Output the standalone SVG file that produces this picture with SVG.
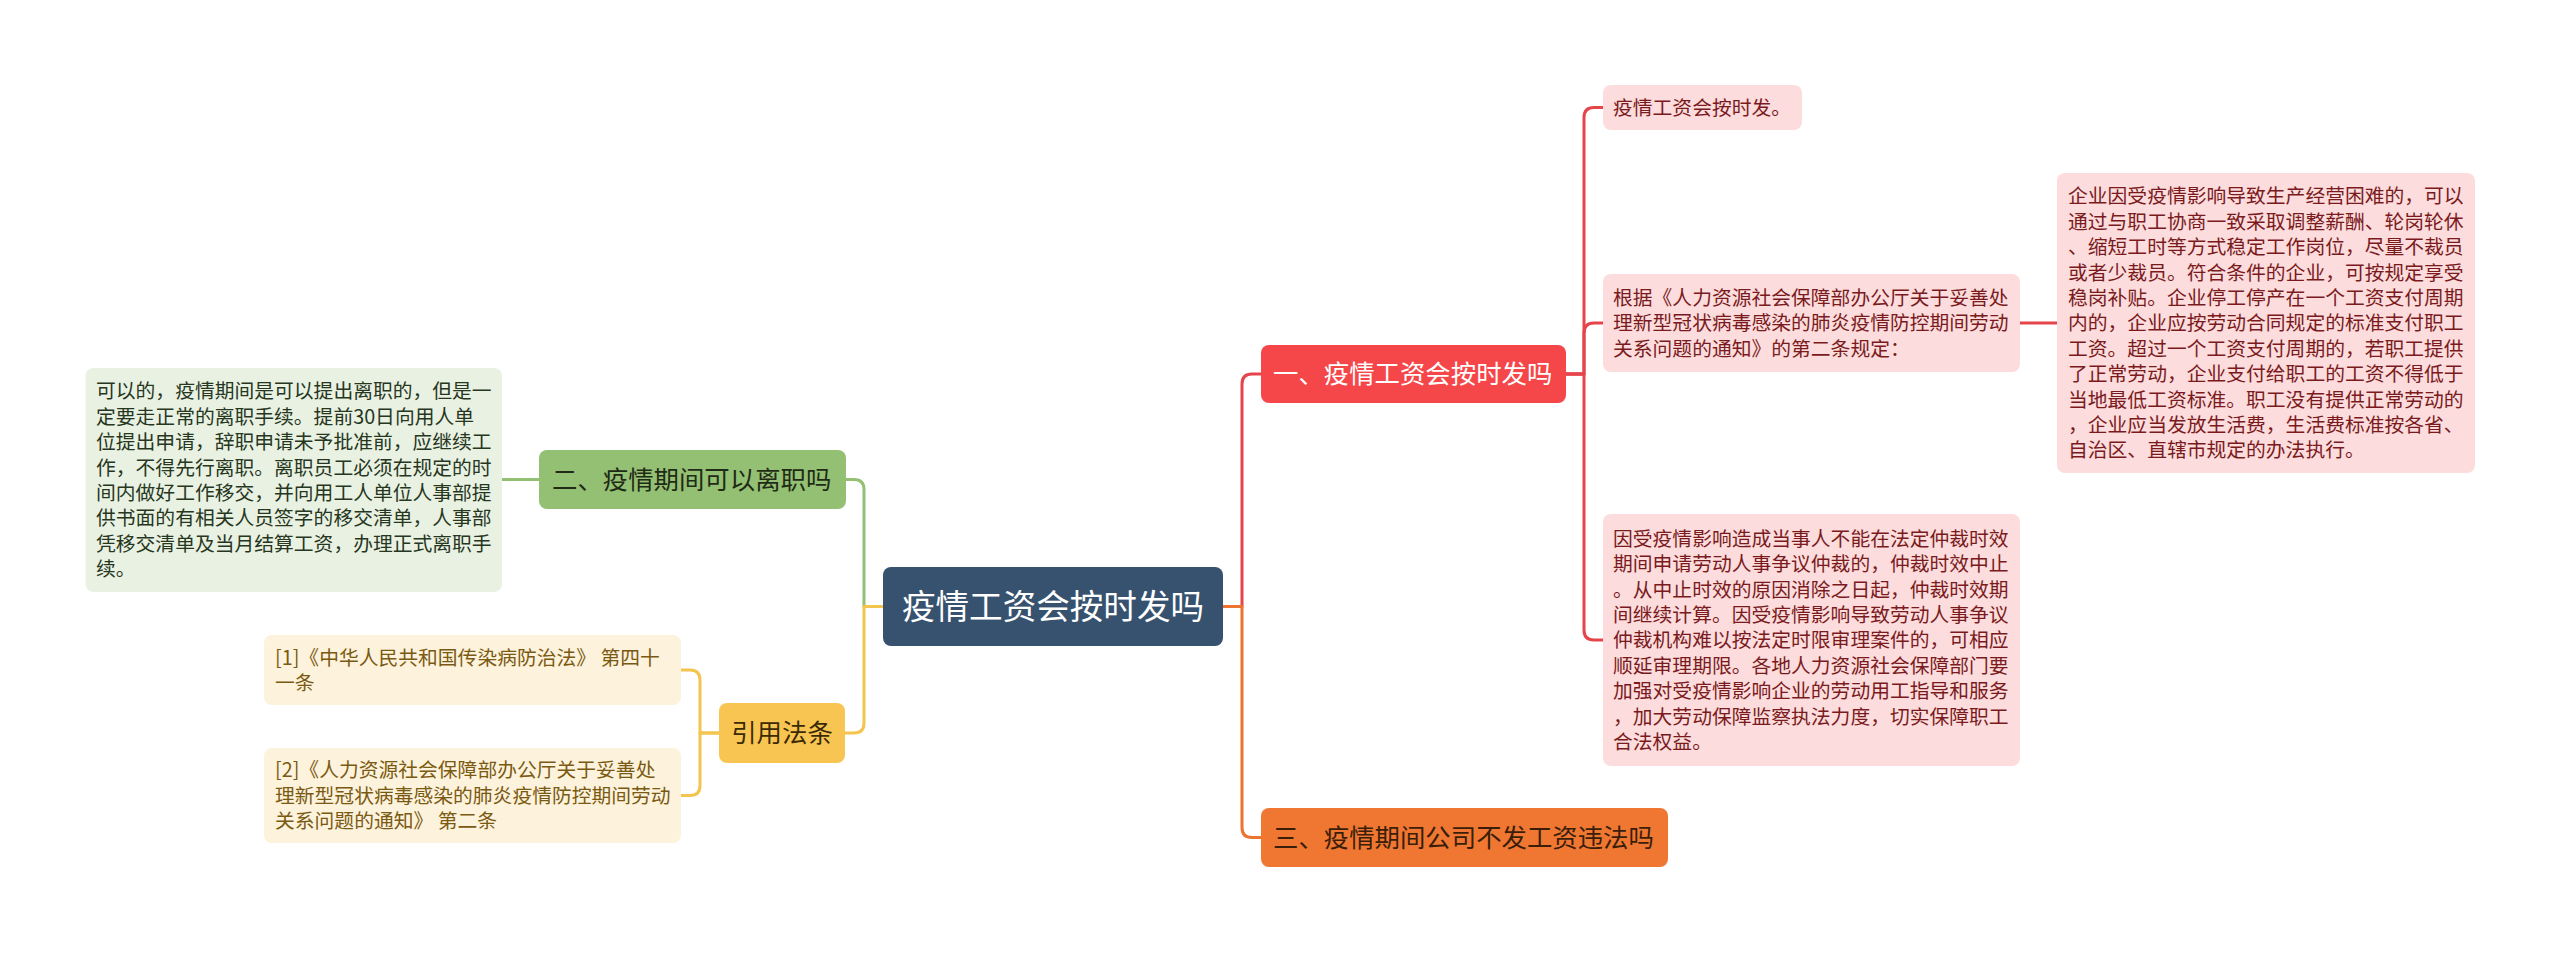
<svg xmlns="http://www.w3.org/2000/svg" width="2560" height="953" viewBox="0 0 2560 953">
<style>
text{font-family:"Noto Sans CJK SC","Noto Sans",sans-serif;}
.c{fill:none;stroke-width:3;stroke-linecap:round;stroke-linejoin:round;}
.cr{stroke:#e5444a;}
.co{stroke:#ec7330;}
.cg{stroke:#94c073;}
.cy{stroke:#f3c44e;}
.main{font-size:25.4px;}
.leaf{font-size:19.8px;}
.rl{fill:#fcdcdc;}
.rt{fill:#7a1a1c;}
.gl{fill:#e9f2e2;}
.gt{fill:#27361f;}
.yl{fill:#fdf2db;}
.yt{fill:#7a5a12;}
</style>
<rect width="2560" height="953" fill="#ffffff"/>
<g id="connectors">
<path class="c cg" d="M883,606.5 H864 V489.5 Q864,479.5 854,479.5 H846"/>
<path class="c cy" d="M883,606.5 H864 V723 Q864,733 854,733 H845"/>
<path class="c cg" d="M539,479.5 H502"/>
<path class="c cy" d="M719,733 H700 V680 Q700,670 690,670 H681"/>
<path class="c cy" d="M719,733 H700 V785.5 Q700,795.5 690,795.5 H681"/>
<path class="c cr" d="M1223,606.5 H1242 V384 Q1242,374 1252,374 H1261"/>
<path class="c co" d="M1223,606.5 H1242 V827.5 Q1242,837.5 1252,837.5 H1261"/>
<path class="c cr" d="M1566,374 H1584 V117.5 Q1584,107.5 1594,107.5 H1603"/>
<path class="c cr" d="M1566,374 H1584 V333 Q1584,323 1594,323 H1603"/>
<path class="c cr" d="M1566,374 H1584 V630 Q1584,640 1594,640 H1603"/>
<path class="c cr" d="M2020,323 H2057"/>
</g>
<g id="root">
<rect x="883" y="567" width="340" height="79" rx="8" fill="#37526f"/>
<text x="1053" y="619" font-size="33.6" fill="#ffffff" text-anchor="middle">疫情工资会按时发吗</text>
</g>
<g id="n1">
<rect x="1261" y="345" width="305" height="58" rx="8" fill="#f5464a"/>
<text class="main" x="1273" y="383.4" fill="#ffffff">一、疫情工资会按时发吗</text>
</g>
<g id="n1a">
<rect class="rl" x="1603" y="85" width="199" height="45" rx="8"/>
<text class="leaf rt" x="1613" y="114.8">疫情工资会按时发。</text>
</g>
<g id="n1b">
<rect class="rl" x="1603" y="274" width="417" height="98" rx="8"/>
<text class="leaf rt"><tspan x="1613" y="304.9">根据《人力资源社会保障部办公厅关于妥善处</tspan><tspan x="1613" y="330.3">理新型冠状病毒感染的肺炎疫情防控期间劳动</tspan><tspan x="1613" y="355.7">关系问题的通知》的第二条规定：</tspan></text>
</g>
<g id="n1b1">
<rect class="rl" x="2057" y="173" width="418" height="300" rx="8"/>
<text class="leaf rt"><tspan x="2068" y="203.3">企业因受疫情影响导致生产经营困难的，可以</tspan><tspan x="2068" y="228.7">通过与职工协商一致采取调整薪酬、轮岗轮休</tspan><tspan x="2068" y="254.1">、缩短工时等方式稳定工作岗位，尽量不裁员</tspan><tspan x="2068" y="279.5">或者少裁员。符合条件的企业，可按规定享受</tspan><tspan x="2068" y="304.9">稳岗补贴。企业停工停产在一个工资支付周期</tspan><tspan x="2068" y="330.3">内的，企业应按劳动合同规定的标准支付职工</tspan><tspan x="2068" y="355.7">工资。超过一个工资支付周期的，若职工提供</tspan><tspan x="2068" y="381.1">了正常劳动，企业支付给职工的工资不得低于</tspan><tspan x="2068" y="406.5">当地最低工资标准。职工没有提供正常劳动的</tspan><tspan x="2068" y="431.9">，企业应当发放生活费，生活费标准按各省、</tspan><tspan x="2068" y="457.3">自治区、直辖市规定的办法执行。</tspan></text>
</g>
<g id="n1c">
<rect class="rl" x="1603" y="514" width="417" height="252" rx="8"/>
<text class="leaf rt"><tspan x="1613" y="545.7">因受疫情影响造成当事人不能在法定仲裁时效</tspan><tspan x="1613" y="571.1">期间申请劳动人事争议仲裁的，仲裁时效中止</tspan><tspan x="1613" y="596.5">。从中止时效的原因消除之日起，仲裁时效期</tspan><tspan x="1613" y="621.9">间继续计算。因受疫情影响导致劳动人事争议</tspan><tspan x="1613" y="647.3">仲裁机构难以按法定时限审理案件的，可相应</tspan><tspan x="1613" y="672.7">顺延审理期限。各地人力资源社会保障部门要</tspan><tspan x="1613" y="698.1">加强对受疫情影响企业的劳动用工指导和服务</tspan><tspan x="1613" y="723.5">，加大劳动保障监察执法力度，切实保障职工</tspan><tspan x="1613" y="748.9">合法权益。</tspan></text>
</g>
<g id="n3">
<rect x="1261" y="808" width="407" height="59" rx="8" fill="#f07731"/>
<text class="main" x="1273" y="846.9" fill="#3a1e0a">三、疫情期间公司不发工资违法吗</text>
</g>
<g id="n2">
<rect x="539" y="450" width="307" height="59" rx="8" fill="#94c073"/>
<text class="main" x="552" y="488.9" fill="#1f2b16">二、疫情期间可以离职吗</text>
</g>
<g id="n2a">
<rect class="gl" x="85.5" y="368" width="416.5" height="224" rx="8"/>
<text class="leaf gt"><tspan x="96" y="398.4">可以的，疫情期间是可以提出离职的，但是一</tspan><tspan x="96" y="423.8">定要走正常的离职手续。提前30日向用人单</tspan><tspan x="96" y="449.2">位提出申请，辞职申请未予批准前，应继续工</tspan><tspan x="96" y="474.6">作，不得先行离职。离职员工必须在规定的时</tspan><tspan x="96" y="500">间内做好工作移交，并向用工人单位人事部提</tspan><tspan x="96" y="525.4">供书面的有相关人员签字的移交清单，人事部</tspan><tspan x="96" y="550.8">凭移交清单及当月结算工资，办理正式离职手</tspan><tspan x="96" y="576.2">续。</tspan></text>
</g>
<g id="n4">
<rect x="719" y="703" width="126" height="60" rx="8" fill="#f8c552"/>
<text class="main" x="782" y="742.4" fill="#3b2a06" text-anchor="middle">引用法条</text>
</g>
<g id="n4a">
<rect class="yl" x="264" y="635" width="417" height="70" rx="8"/>
<text class="leaf yt"><tspan x="275" y="664.6">[1]《中华人民共和国传染病防治法》 第四十</tspan><tspan x="275" y="690">一条</tspan></text>
</g>
<g id="n4b">
<rect class="yl" x="264" y="748" width="417" height="95" rx="8"/>
<text class="leaf yt"><tspan x="275" y="777.4">[2]《人力资源社会保障部办公厅关于妥善处</tspan><tspan x="275" y="802.8">理新型冠状病毒感染的肺炎疫情防控期间劳动</tspan><tspan x="275" y="828.2">关系问题的通知》 第二条</tspan></text>
</g>
</svg>
